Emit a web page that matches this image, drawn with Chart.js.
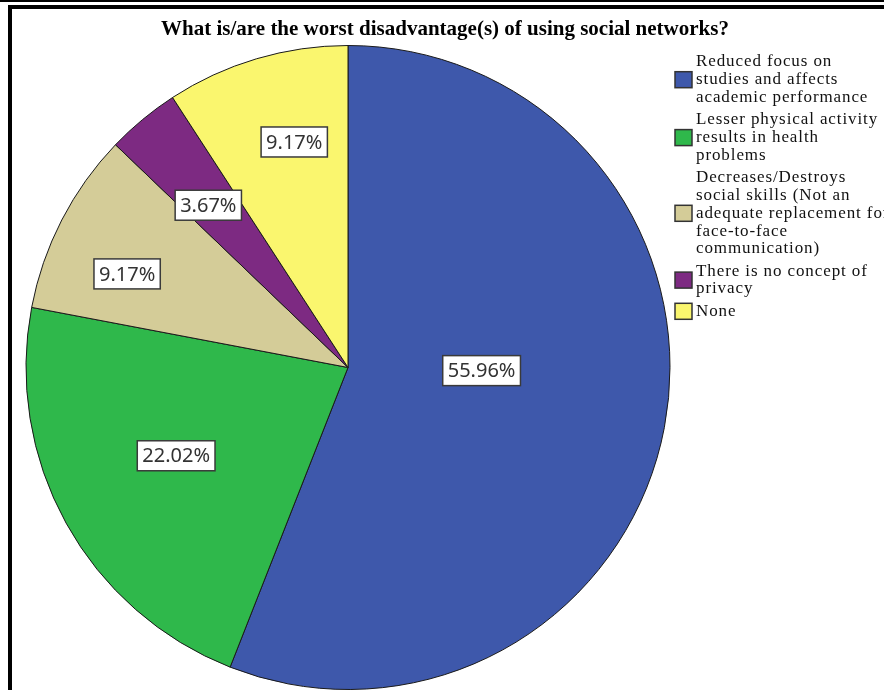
<!DOCTYPE html>
<html>
<head>
<meta charset="utf-8">
<script src="https://cdn.jsdelivr.net/npm/chart.js@4"></script>
<style>
  html, body { margin: 0; padding: 0; background: #fff; }
  #wrap { width: 884px; height: 690px; }
</style>
</head>
<body>
<div id="wrap"><canvas id="grafico" width="884" height="690"></canvas></div>
<script>
// datos del gráfico
const categorias = [
  ['Reduced focus on', 'studies and affects', 'academic performance'],
  ['Lesser physical activity', 'results in health', 'problems'],
  ['Decreases/Destroys', 'social skills (Not an', 'adequate replacement for', 'face-to-face', 'communication)'],
  ['There is no concept of', 'privacy'],
  ['None']
];
const porcentajes = [55.96, 22.02, 9.17, 3.67, 9.17];
const colores = ['#3e58ab', '#2fb84b', '#d4cc98', '#7d2a82', '#faf66e'];
// posición de cada etiqueta: fracción del radio y desvío de ángulo (grados)
const radioEtiqueta = [0.415, 0.60, 0.745, 0.665, 0.72];
const desvioEtiqueta = [-9.4, 1.7, -4.3, -1.1, 3.1];

const titulo = 'What is/are the worst disadvantage(s) of using social networks?';

// marco negro y título
const marco = {
  id: 'marco',
  beforeDraw(chart) {
    const ctx = chart.ctx;
    ctx.save();
    ctx.fillStyle = '#fff';
    ctx.fillRect(0, 0, chart.width, chart.height);
    ctx.fillStyle = '#000';
    ctx.fillRect(0, 0, chart.width, 2);
    ctx.fillRect(8, 5, chart.width - 8, 4);
    ctx.fillRect(8, 5, 4, chart.height - 5);
    ctx.font = 'bold 21px "Liberation Serif"';
    ctx.textAlign = 'center';
    ctx.textBaseline = 'middle';
    ctx.fillText(titulo, 445, 30);
    ctx.restore();
  }
};

// etiquetas con porcentaje dentro de cada porción
const etiquetas = {
  id: 'etiquetas',
  afterDatasetsDraw(chart) {
    const ctx = chart.ctx;
    const meta = chart.getDatasetMeta(0);
    ctx.save();
    ctx.font = '20px "Noto Sans"';
    ctx.textAlign = 'center';
    ctx.textBaseline = 'middle';
    meta.data.forEach((arc, i) => {
      const p = arc.getProps(['x', 'y', 'startAngle', 'endAngle', 'outerRadius'], true);
      const ang = (p.startAngle + p.endAngle) / 2 + desvioEtiqueta[i] * Math.PI / 180;
      const r = p.outerRadius * radioEtiqueta[i];
      const lx = p.x + Math.cos(ang) * r;
      const ly = p.y + Math.sin(ang) * r;
      const texto = porcentajes[i].toFixed(2) + '%';
      const w = ctx.measureText(texto).width + 10;
      const h = 30;
      ctx.fillStyle = '#fff';
      ctx.fillRect(lx - w / 2, ly - h / 2, w, h);
      ctx.strokeStyle = '#3a3a3a';
      ctx.lineWidth = 1.5;
      ctx.strokeRect(lx - w / 2, ly - h / 2, w, h);
      ctx.fillStyle = '#333';
      ctx.fillText(texto, lx, ly + 1);
    });
    ctx.restore();
  }
};

// leyenda a la derecha con textos en varias líneas
const leyenda = {
  id: 'leyenda',
  afterDraw(chart) {
    const ctx = chart.ctx;
    const x0 = 675, tx = 696, alto = 17.8, sep = 4.5;
    let y = 53;
    ctx.save();
    ctx.font = '17px "Liberation Serif"';
    ctx.letterSpacing = '0.9px';
    ctx.textBaseline = 'middle';
    ctx.textAlign = 'left';
    categorias.forEach((lineas, i) => {
      const bloque = lineas.length * alto;
      const cy = y + bloque / 2;
      ctx.fillStyle = colores[i];
      ctx.fillRect(x0, cy - 8, 17, 16);
      ctx.strokeStyle = '#333';
      ctx.lineWidth = 1.5;
      ctx.strokeRect(x0, cy - 8, 17, 16);
      ctx.fillStyle = '#111';
      lineas.forEach((l, k) => ctx.fillText(l, tx, y + alto * k + alto / 2));
      y += bloque + sep;
    });
    ctx.restore();
  }
};

new Chart(document.getElementById('grafico').getContext('2d'), {
  type: 'pie',
  data: {
    labels: categorias,
    datasets: [{
      data: porcentajes,
      backgroundColor: colores,
      borderColor: '#1a1a1a',
      borderWidth: 1
    }]
  },
  options: {
    responsive: false,
    animation: false,
    layout: { padding: { left: 24, right: 212, top: 45, bottom: 0 } },
    plugins: {
      legend: { display: false },
      tooltip: { enabled: false },
      title: { display: false }
    }
  },
  plugins: [marco, etiquetas, leyenda]
});
</script>
</body>
</html>
